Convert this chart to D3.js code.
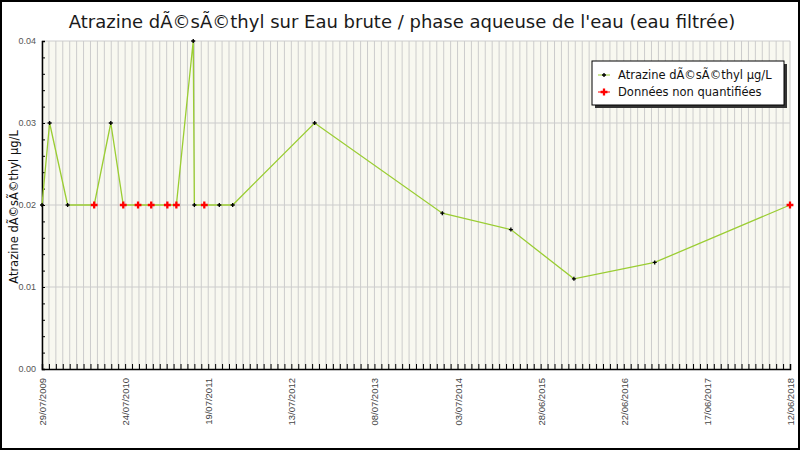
<!DOCTYPE html>
<html>
<head>
<meta charset="utf-8">
<script src="https://cdn.jsdelivr.net/npm/d3@7"></script>
<style>
  body { margin: 0; background: #fff; }
  #chart { width: 800px; height: 450px; }
</style>
</head>
<body>
<div id="chart"></div>
<script>
// dates (dd/mm/yyyy) and values
const dates = [
  "29/07/2009", "31/08/2009", "17/11/2009", "12/03/2010", "23/05/2010",
  "16/07/2010", "18/09/2010", "14/11/2010", "23/01/2011", "03/03/2011",
  "15/05/2011", "20/05/2011", "02/07/2011", "05/09/2011", "02/11/2011",
  "22/10/2012", "28/04/2014", "19/02/2015", "19/11/2015", "03/11/2016",
  "12/06/2018"
];
const valeurs = [
  0.02, 0.03, 0.02, 0.02, 0.03,
  0.02, 0.02, 0.02, 0.02, 0.02,
  0.04, 0.02, 0.02, 0.02, 0.02,
  0.03, 0.019, 0.017, 0.011, 0.013,
  0.02
];
// true = donnée non quantifiée (marqueur rouge)
const nonQuantifie = [
  false, false, false, true, false,
  true, true, true, true, true,
  false, false, true, false, false,
  false, false, false, false, false,
  true
];
const yTicks = [0, 0.01, 0.02, 0.03, 0.04];
const titre = "Atrazine dÃ©sÃ©thyl sur Eau brute / phase aqueuse de l'eau (eau filtrée)";
const titreY = "Atrazine dÃ©sÃ©thyl µg/L";
const legende = ["Atrazine dÃ©sÃ©thyl µg/L", "Données non quantifiées"];

const parse = d3.timeParse("%d/%m/%Y");
const fmt = d3.timeFormat("%d/%m/%Y");

const dados = dates.map((d, i) => ({
  date: parse(d),
  valeur: valeurs[i],
  nq: nonQuantifie[i]
}));

const width = 800, height = 450;
const margins = { top: 41, right: 10, bottom: 81, left: 42 };

const svg = d3.select("#chart").append("svg")
  .attr("width", width)
  .attr("height", height);

svg.append("rect")
  .attr("x", 1).attr("y", 1)
  .attr("width", width - 2).attr("height", height - 2)
  .attr("fill", "#fff")
  .attr("stroke", "#000")
  .attr("stroke-width", 2);

const debut = dados[0].date;
const fin = dados[dados.length - 1].date;

const x = d3.scaleTime()
  .domain([debut, fin])
  .range([margins.left, width - margins.right]);

const y = d3.scaleLinear()
  .domain([0, 0.04])
  .range([height - margins.bottom, margins.top]);

// fond du graphique
svg.append("rect")
  .attr("x", margins.left)
  .attr("y", margins.top)
  .attr("width", x.range()[1] - x.range()[0])
  .attr("height", y.range()[0] - y.range()[1])
  .attr("fill", "#f8f8f0");

// ticks tous les 30 jours, étiquettes tous les 360 jours
const gridDates = d3.timeDay.range(debut, d3.timeDay.offset(fin, 1), 30);
const labelDates = d3.timeDay.range(debut, d3.timeDay.offset(fin, 1), 360);

svg.append("g")
  .selectAll("line")
  .data(gridDates)
  .join("line")
  .attr("x1", d => x(d)).attr("x2", d => x(d))
  .attr("y1", margins.top).attr("y2", y(0))
  .attr("stroke", "#cccccc")
  .attr("stroke-width", 1);

svg.append("g")
  .selectAll("line")
  .data(yTicks.slice(1))
  .join("line")
  .attr("x1", margins.left).attr("x2", x.range()[1])
  .attr("y1", d => y(d)).attr("y2", d => y(d))
  .attr("stroke", "#cccccc")
  .attr("stroke-width", 1);

// axe X
const axeX = svg.append("g")
  .attr("transform", `translate(0, ${y(0)})`)
  .call(d3.axisTop(x).tickValues(gridDates).tickSize(5).tickFormat(""));
axeX.select(".domain").attr("stroke", "#000").attr("stroke-width", 1.5);
axeX.selectAll(".tick line").attr("stroke", "#000");

svg.append("g")
  .selectAll("text")
  .data(labelDates)
  .join("text")
  .attr("transform", d => `translate(${x(d) + 4}, ${y(0) + 9}) rotate(-90)`)
  .attr("text-anchor", "end")
  .attr("font-family", "Liberation Sans, Arial, sans-serif")
  .attr("font-size", "9.5px")
  .attr("fill", "#444")
  .text(d => fmt(d));

// axe Y
const axeY = svg.append("g")
  .attr("transform", `translate(${margins.left}, 0)`)
  .call(d3.axisRight(y).ticks(16).tickSize(3).tickFormat(""));
axeY.select(".domain").attr("stroke", "#000").attr("stroke-width", 1.5);
axeY.selectAll(".tick line").attr("stroke", "#000");

svg.append("g")
  .selectAll("text")
  .data(yTicks)
  .join("text")
  .attr("x", margins.left - 6)
  .attr("y", d => y(d) + 3)
  .attr("text-anchor", "end")
  .attr("font-family", "Liberation Sans, Arial, sans-serif")
  .attr("font-size", "9px")
  .attr("fill", "#555")
  .text(d => d3.format(".2f")(d));

// ligne
const ligne = d3.line()
  .x(d => x(d.date))
  .y(d => y(d.valeur));

svg.append("path")
  .datum(dados)
  .attr("d", ligne)
  .attr("fill", "none")
  .attr("stroke", "#9acd32")
  .attr("stroke-width", 1.3);

// marqueurs
const croix = d3.symbol().type(d3.symbolCross);
svg.append("g")
  .selectAll("path")
  .data(dados)
  .join("path")
  .attr("transform", d => `translate(${x(d.date)}, ${y(d.valeur)})`)
  .attr("d", d => croix.size(d.nq ? 26 : 9)())
  .attr("fill", d => d.nq ? "#ff0000" : "#000");

// titre
svg.append("text")
  .attr("x", width / 2 + 2)
  .attr("y", 28)
  .attr("text-anchor", "middle")
  .attr("font-family", "DejaVu Sans, sans-serif")
  .attr("font-size", "18px")
  .attr("fill", "#1a1a1a")
  .text(titre);

svg.append("text")
  .attr("transform", `translate(18, ${(margins.top + y(0)) / 2 + 2}) rotate(-90)`)
  .attr("text-anchor", "middle")
  .attr("font-family", "DejaVu Sans, sans-serif")
  .attr("font-size", "11.5px")
  .attr("fill", "#111")
  .text(titreY);

// légende
const leg = svg.append("g").attr("transform", "translate(592, 61)");
leg.append("rect")
  .attr("x", 3).attr("y", 3)
  .attr("width", 192).attr("height", 44)
  .attr("fill", "#333");
leg.append("rect")
  .attr("width", 192).attr("height", 44)
  .attr("fill", "#fff")
  .attr("stroke", "#000")
  .attr("stroke-width", 1);

legende.forEach((t, i) => {
  const yy = 14 + i * 17;
  leg.append("line")
    .attr("x1", 6).attr("x2", 18)
    .attr("y1", yy).attr("y2", yy)
    .attr("stroke", i === 0 ? "#9acd32" : "#ff0000");
  leg.append("path")
    .attr("transform", `translate(12, ${yy})`)
    .attr("d", croix.size(i === 0 ? 9 : 26)())
    .attr("fill", i === 0 ? "#000" : "#ff0000");
  leg.append("text")
    .attr("x", 26)
    .attr("y", yy + 4)
    .attr("font-family", "DejaVu Sans, sans-serif")
    .attr("font-size", "11.5px")
    .attr("fill", "#111")
    .text(t);
});
</script>
</body>
</html>
